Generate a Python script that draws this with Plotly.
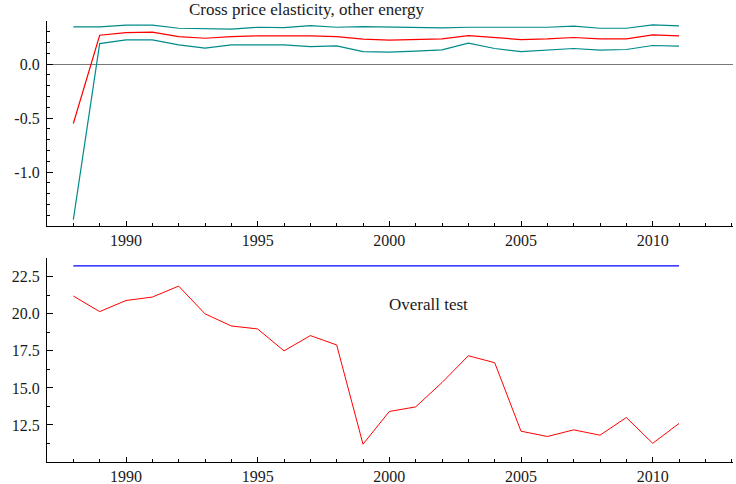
import plotly.graph_objects as go
from plotly.subplots import make_subplots

years = list(range(1988, 2012))

elasticity = [-0.55, 0.268, 0.293, 0.296, 0.256, 0.240, 0.255, 0.262, 0.262, 0.263,
              0.256, 0.232, 0.222, 0.228, 0.234, 0.265, 0.244, 0.228, 0.234, 0.247,
              0.234, 0.234, 0.271, 0.262]
upper_band = [0.345, 0.345, 0.361, 0.361, 0.333, 0.327, 0.324, 0.342, 0.339, 0.358,
              0.342, 0.348, 0.345, 0.342, 0.336, 0.342, 0.342, 0.342, 0.342, 0.352,
              0.333, 0.333, 0.364, 0.355]
lower_band = [-1.44, 0.191, 0.225, 0.225, 0.179, 0.148, 0.179, 0.179, 0.179, 0.163,
              0.170, 0.117, 0.111, 0.120, 0.132, 0.194, 0.145, 0.117, 0.130, 0.145,
              0.130, 0.136, 0.173, 0.167]

overall_test = [21.2, 20.15, 20.9, 21.13, 21.87, 20.0, 19.18, 18.98, 17.5, 18.53,
                17.9, 11.2, 13.41, 13.72, 15.36, 17.17, 16.7, 12.08, 11.72, 12.17,
                11.81, 13.0, 11.26, 12.6]
critical_value = [23.24] * len(years)

top_ticks = [-1.0, -0.5, 0.0]
top_ticktext = ["-1.0", "-0.5", "0.0"]
bottom_ticks = [12.5, 15.0, 17.5, 20.0, 22.5]
x_ticks = [1990, 1995, 2000, 2005, 2010]

top_title = "Cross price elasticity, other energy"
bottom_label = "Overall test"

FONT = "Liberation Serif"
TXT = "#1a1a1a"
TEAL = "#008b8b"
TICKSIZE = 16
TITLESIZE = 17

fig = make_subplots(rows=2, cols=1, vertical_spacing=0.0)
fig.update_layout(
    width=736, height=484,
    margin=dict(l=47, r=3, t=21, b=22),
    plot_bgcolor="white", paper_bgcolor="white",
    showlegend=False,
    font=dict(family=FONT, size=TICKSIZE, color=TXT),
)

fig.add_trace(go.Scatter(x=years, y=upper_band, mode="lines",
                         line=dict(color=TEAL, width=1.2)), row=1, col=1)
fig.add_trace(go.Scatter(x=years, y=lower_band, mode="lines",
                         line=dict(color=TEAL, width=1.2)), row=1, col=1)
fig.add_trace(go.Scatter(x=years, y=elasticity, mode="lines",
                         line=dict(color="#ff0000", width=1.2)), row=1, col=1)

fig.add_trace(go.Scatter(x=years, y=critical_value, mode="lines",
                         line=dict(color="#0000ff", width=1.2)), row=2, col=1)
fig.add_trace(go.Scatter(x=years, y=overall_test, mode="lines",
                         line=dict(color="#ff0000", width=1.0)), row=2, col=1)

xcommon = dict(range=[1987, 2013.05], showgrid=False, zeroline=False, automargin=False,
               showline=True, linecolor="black", linewidth=1.2,
               ticks="inside", ticklen=5, tickwidth=1, tickcolor="black",
               tickvals=x_ticks, ticklabelstandoff=0,
               minor=dict(dtick=1, tick0=1990, ticks="inside", ticklen=3,
                          tickcolor="black", tickwidth=1),
               tickfont=dict(family=FONT, size=TICKSIZE, color=TXT))
fig.update_xaxes(**xcommon)

fig.update_yaxes(range=[-1.5, 0.4], row=1, col=1, domain=[0.535, 1.0], automargin=False,
                 showgrid=False, showline=True, linecolor="black", linewidth=1.2,
                 zeroline=True, zerolinecolor="#777777", zerolinewidth=1,
                 ticks="inside", ticklen=6, tickwidth=1, tickcolor="black",
                 tickvals=top_ticks, ticktext=top_ticktext, ticklabelstandoff=3,
                 minor=dict(dtick=0.1, tick0=0, ticks="inside", ticklen=3,
                            tickcolor="black", tickwidth=1),
                 tickfont=dict(family=FONT, size=TICKSIZE, color=TXT))
fig.update_yaxes(range=[10, 23.75], row=2, col=1, domain=[0.0, 0.462], automargin=False,
                 showgrid=False, showline=True, linecolor="black", linewidth=1.2,
                 zeroline=False,
                 ticks="inside", ticklen=6, tickwidth=1, tickcolor="black",
                 tickvals=bottom_ticks, tickformat=".1f", ticklabelstandoff=3,
                 minor=dict(dtick=1.25, tick0=0, ticks="inside", ticklen=3,
                            tickcolor="black", tickwidth=1),
                 tickfont=dict(family=FONT, size=TICKSIZE, color=TXT))

fig.add_annotation(text=top_title, xref="paper", yref="paper",
                   x=(307 - 47) / 686, y=1.0, yshift=0, xanchor="center", yanchor="bottom",
                   showarrow=False, font=dict(family=FONT, size=TITLESIZE, color=TXT))
fig.add_annotation(text=bottom_label, xref="x2", yref="y2",
                   x=2001.5, y=20.62, xanchor="center", yanchor="middle",
                   showarrow=False, font=dict(family=FONT, size=TITLESIZE, color=TXT))

fig.write_html("out.html", config={"displayModeBar": False},
               post_script="document.body.style.margin='0';document.body.style.overflow='hidden';")
